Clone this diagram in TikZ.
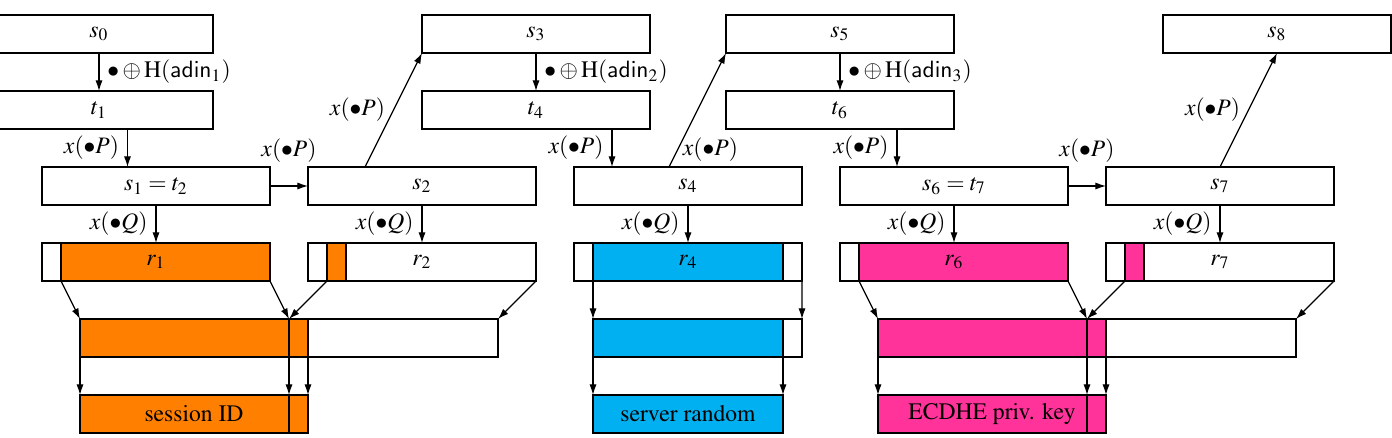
\documentclass[tikz,border=0pt]{standalone}
\usepackage[T1]{fontenc}
\usepackage{mathptmx}
\usepackage[scaled=0.92]{helvet}
\usepackage{tikz}
\usetikzlibrary{arrows.meta,calc}

\newlength\cellw
\setlength\cellw{0.2831cm}
\definecolor{keyorange}{RGB}{255,128,0}
\definecolor{keyblue}{RGB}{0,176,240}
\definecolor{keypink}{RGB}{255,51,153}

\begin{document}
\begin{tikzpicture}[x=0.2831cm,y=-0.2831cm,line width=0.5pt,>={Latex[length=4.5pt,width=3pt]},
    cell/.style={draw,anchor=north west,minimum width=#1*\cellw,minimum height=2*\cellw,inner sep=0pt,outer sep=0pt}]
        \useasboundingbox (-2.2105,-0.7895) rectangle (71.0526,22.2105);
        \clip (-2.2105,-0.7895) rectangle (71.0526,22.2105);
        % state boxes
        \node[cell=12] (s0) at (-3,0) {$s_0$};
        \node[cell=12] (t1) at (-3,4) {$t_1$};
        \node[cell=12] (s1) at (0,8) {$s_1=t_2$};
        \node[cell=12] (s2) at (14,8) {$s_2$};
        \node[cell=12] (s3) at (20,0) {$s_3$};
        \node[cell=12] (t4) at (20,4) {$t_4$};
        \node[cell=12] (s4) at (28,8) {$s_4$};
        \node[cell=12] (s5) at (36,0) {$s_5$};
        \node[cell=12] (t6) at (36,4) {$t_6$};
        \node[cell=12] (s6) at (42,8) {$s_6=t_7$};
        \node[cell=12] (s7) at (56,8) {$s_7$};
        \node[cell=12] (s8) at (59,0) {$s_8$};
        % reseeding
        \draw[->] (s0.south) -- (t1.north) node[midway,right] {$\bullet\oplus\mathrm{H}(\mathsf{adin}_1)$};
        \draw[->] (s3.south) -- (t4.north) node[midway,right] {$\bullet\oplus\mathrm{H}(\mathsf{adin}_2)$};
        \draw[->] (s5.south) -- (t6.north) node[midway,right] {$\bullet\oplus\mathrm{H}(\mathsf{adin}_3)$};
        \coordinate (c1) at ($(t1.south east)!.5!(s1.north west)$);
        \coordinate (c4) at ($(t4.south east)!.5!(s4.north west)$);
        \coordinate (c6) at ($(t6.south east)!.5!(s6.north west)$);
        \draw[->] (c1 |- t1.south) -- (c1 |- s1.north) node[midway,left] {$x(\bullet P)$};
        \draw[->] (c4 |- t4.south) -- (c4 |- s4.north) node[midway,left] {$x(\bullet P)$};
        \draw[->] (c6 |- t6.south) -- (c6 |- s6.north) node[midway,left] {$x(\bullet P)$};
        % state updates
        \draw[->] (s1.east) -- (s2.west);
        \node[above,inner sep=1.5pt] (l2) at ($(s1.north east)!.5!(s2.north west)$) {$x(\bullet P)$};
        \draw[->] (s6.east) -- (s7.west);
        \node[above,inner sep=1.5pt] (l7) at ($(s6.north east)!.5!(s7.north west)$) {$x(\bullet P)$};
        \draw[->] ($(s2.north)+(-3,0)$) -- (s3.south west) node[midway,left] {$x(\bullet P)$};
        \draw[->] ($(s4.north)+(-1,0)$) -- (s5.south west) node[pos=0.15,right,inner sep=2pt] {$x(\bullet P)$};
        \draw[->] (s7.north) -- (s8.south) node[midway,left] {$x(\bullet P)$};
        % outputs
        \node[cell=11,fill=keyorange] (r1f) at (1,12) {};
        \node[cell=12] (r1) at (0,12) {$r_1$};
        \node[cell=1,fill=keyorange] (r2f) at (15,12) {};
        \node[cell=12] (r2) at (14,12) {$r_2$};
        \node[cell=10,fill=keyblue] (r4f) at (29,12) {};
        \node[cell=12] (r4) at (28,12) {$r_4$};
        \node[cell=11,fill=keypink] (r6f) at (43,12) {};
        \node[cell=12] (r6) at (42,12) {$r_6$};
        \node[cell=1,fill=keypink] (r7f) at (57,12) {};
        \node[cell=12] (r7) at (56,12) {$r_7$};
        \draw[->] (s1.south) -- (r1.north) node[midway,left] {$x(\bullet Q)$};
        \draw[->] (s2.south) -- (r2.north) node[midway,left] {$x(\bullet Q)$};
        \draw[->] (s4.south) -- (r4.north) node[midway,left] {$x(\bullet Q)$};
        \draw[->] (s6.south) -- (r6.north) node[midway,left] {$x(\bullet Q)$};
        \draw[->] (s7.south) -- (r7.north) node[midway,left] {$x(\bullet Q)$};
        % session ID
        \node[cell=11,fill=keyorange] (m1a) at (2,16) {};
        \node[cell=1,fill=keyorange] (m1b) at (13,16) {};
        \node[cell=22] (m1) at (2,16) {};
        \draw[->] (r1f.south west) -- (m1a.north west);
        \draw[->] (r1f.south east) -- (m1a.north east);
        \draw[->] (r2f.south west) -- (m1b.north west);
        \draw[->] (r2.south east) -- (m1.north east);
        \node[cell=11,fill=keyorange] (b1a) at (2,20) {};
        \node[cell=1,fill=keyorange] (b1b) at (13,20) {};
        \node[cell=12] (b1) at (2,20) {session ID};
        \draw[->] (m1a.south west) -- (b1a.north west);
        \draw[->] (m1a.south east) -- (b1a.north east);
        \draw[->] (m1b.south east) -- (b1b.north east);
        % server random
        \node[cell=10,fill=keyblue] (m4a) at (29,16) {};
        \node[cell=11] (m4) at (29,16) {};
        \draw[->] (r4f.south west) -- (m4.north west);
        \draw[->] (r4.south east) -- (m4.north east);
        \node[cell=10,fill=keyblue] (b4) at (29,20) {server random};
        \draw[->] (m4a.south west) -- (b4.north west);
        \draw[->] (m4a.south east) -- (b4.north east);
        % ECDHE key
        \node[cell=11,fill=keypink] (m6a) at (44,16) {};
        \node[cell=1,fill=keypink] (m6b) at (55,16) {};
        \node[cell=22] (m6) at (44,16) {};
        \draw[->] (r6f.south west) -- (m6a.north west);
        \draw[->] (r6f.south east) -- (m6a.north east);
        \draw[->] (r7f.south west) -- (m6b.north west);
        \draw[->] (r7.south east) -- (m6.north east);
        \node[cell=11,fill=keypink] (b6a) at (44,20) {};
        \node[cell=1,fill=keypink] (b6b) at (55,20) {};
        \node[cell=12] (b6) at (44,20) {ECDHE priv. key};
        \draw[->] (m6a.south west) -- (b6a.north west);
        \draw[->] (m6a.south east) -- (b6a.north east);
        \draw[->] (m6b.south east) -- (b6b.north east);
    \end{tikzpicture}
\end{document}
